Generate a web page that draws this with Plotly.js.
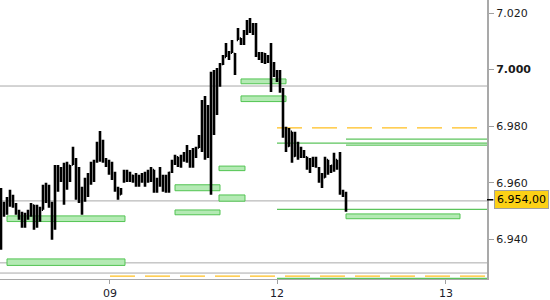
<!DOCTYPE html>
<html>
<head>
<meta charset="utf-8">
<script src="https://cdn.plot.ly/plotly-3.0.1.min.js"></script>
<style>html,body{margin:0;padding:0;background:#fff;}#chart{width:550px;height:300px;}</style>
</head>
<body>
<div id="chart"></div>
<script>
// OHLC bars (bar index = time slot)
const high = [6.9582,6.9533,6.9550,6.9575,6.9558,6.9529,6.9505,6.9498,6.9494,6.9505,
6.9529,6.9522,6.9522,6.9515,6.9593,6.9600,6.9593,6.9533,6.9663,6.9663,
6.9656,6.9671,6.9674,6.9663,6.9727,6.9688,6.9656,6.9586,6.9618,6.9635,
6.9674,6.9681,6.9745,6.9783,6.9752,6.9688,6.9681,6.9674,6.9639,6.9586,
6.9582,6.9646,6.9646,6.9639,6.9628,6.9635,6.9628,6.9635,6.9639,6.9646,
6.9656,6.9646,6.9618,6.9656,6.9628,6.9628,6.9639,6.9681,6.9699,6.9692,
6.9699,6.9709,6.9734,6.9716,6.9723,6.9727,6.9769,6.9893,6.9907,6.9875,
6.9992,6.9999,7.0006,7.0023,7.0052,7.0094,7.0066,7.0105,7.0059,7.0147,
7.0112,7.0140,7.0175,7.0182,7.0165,7.0165,7.0062,7.0062,7.0059,7.0052,
7.0094,7.0027,6.9999,6.9999,6.9935,6.9798,6.9794,6.9780,6.9780,6.9745,
6.9727,6.9716,6.9692,6.9688,6.9692,6.9692,6.9656,6.9635,6.9692,6.9681,
6.9663,6.9706,6.9681,6.9709,6.9575,6.9568];
const low = [6.9363,6.9480,6.9487,6.9515,6.9512,6.9487,6.9469,6.9441,6.9441,6.9469,
6.9480,6.9434,6.9441,6.9462,6.9505,6.9529,6.9512,6.9399,6.9434,6.9568,
6.9603,6.9522,6.9575,6.9603,6.9663,6.9540,6.9529,6.9487,6.9533,6.9550,
6.9593,6.9603,6.9671,6.9674,6.9671,6.9656,6.9628,6.9610,6.9568,6.9540,
6.9558,6.9600,6.9603,6.9603,6.9600,6.9586,6.9586,6.9600,6.9586,6.9600,
6.9603,6.9565,6.9565,6.9586,6.9568,6.9565,6.9565,6.9635,6.9663,6.9656,
6.9653,6.9674,6.9671,6.9653,6.9653,6.9688,6.9723,6.9709,6.9681,6.9688,
6.9558,6.9769,6.9840,6.9939,7.0016,7.0045,7.0034,7.0059,6.9981,7.0105,
7.0087,7.0087,7.0122,7.0129,7.0122,7.0045,7.0034,7.0023,7.0020,7.0023,
6.9921,6.9974,6.9956,6.9918,6.9759,6.9709,6.9727,6.9671,6.9692,6.9681,
6.9688,6.9688,6.9646,6.9635,6.9656,6.9653,6.9600,6.9582,6.9618,6.9628,
6.9635,6.9639,6.9646,6.9558,6.9550,6.9498];
const open = [6.9560,6.9500,6.9525,6.9540,6.9530,6.9520,6.9495,6.9480,6.9460,6.9485,
6.9500,6.9520,6.9450,6.9510,6.9505,6.9580,6.9560,6.9520,6.9450,6.9650,
6.9610,6.9640,6.9580,6.9660,6.9665,6.9680,6.9560,6.9580,6.9540,6.9600,
6.9620,6.9665,6.9675,6.9740,6.9720,6.9680,6.9665,6.9640,6.9620,6.9580,
6.9560,6.9605,6.9635,6.9615,6.9625,6.9605,6.9595,6.9620,6.9610,6.9630,
6.9640,6.9645,6.9575,6.9610,6.9620,6.9580,6.9600,6.9640,6.9675,6.9690,
6.9665,6.9690,6.9700,6.9680,6.9660,6.9715,6.9725,6.9760,6.9880,6.9700,
6.9860,6.9980,6.9850,6.9995,7.0020,7.0045,7.0060,7.0060,7.0055,7.0105,
7.0110,7.0095,7.0135,7.0165,7.0140,7.0155,7.0050,7.0040,7.0055,7.0030,
7.0045,6.9980,6.9990,6.9965,6.9925,6.9770,6.9730,6.9780,6.9695,6.9740,
6.9700,6.9710,6.9690,6.9655,6.9680,6.9665,6.9650,6.9610,6.9620,6.9680,
6.9640,6.9660,6.9680,6.9670,6.9565,6.9555];
const close = [6.9500,6.9525,6.9540,6.9530,6.9520,6.9495,6.9480,6.9460,6.9485,6.9500,
6.9520,6.9450,6.9510,6.9500,6.9580,6.9560,6.9520,6.9450,6.9650,6.9590,
6.9640,6.9560,6.9660,6.9620,6.9720,6.9560,6.9600,6.9510,6.9600,6.9620,
6.9665,6.9675,6.9740,6.9720,6.9680,6.9665,6.9640,6.9620,6.9580,6.9550,
6.9575,6.9635,6.9615,6.9630,6.9605,6.9595,6.9620,6.9610,6.9630,6.9640,
6.9650,6.9575,6.9610,6.9645,6.9580,6.9600,6.9635,6.9675,6.9690,6.9665,
6.9690,6.9700,6.9680,6.9660,6.9715,6.9720,6.9760,6.9880,6.9700,6.9860,
6.9980,6.9790,6.9995,7.0015,7.0045,7.0085,7.0040,7.0100,6.9990,7.0140,
7.0095,7.0135,7.0165,7.0140,7.0155,7.0050,7.0040,7.0055,7.0030,7.0045,
6.9930,6.9990,6.9965,6.9925,6.9770,6.9720,6.9785,6.9690,6.9760,6.9700,
6.9720,6.9695,6.9655,6.9680,6.9665,6.9685,6.9610,6.9590,6.9680,6.9640,
6.9660,6.9700,6.9660,6.9565,6.9555,6.9540];

// x-axis day labels (bar-index positions)
const dayTickPos = [36.33, 92, 148.33];
const dayTickText = ['09', '12', '13'];

// y-axis ticks
const yTickVals = [6.94, 6.96, 6.98, 7.00, 7.02];
const yTickText = ['6.940', '6.960', '6.980', '<b>7.000</b>', '7.020'];

// last price
const lastPrice = 6.954;
const lastPriceLabel = '6.954,00';

// full-width gray levels
const grayLevels = [6.9942, 6.9536, 6.9317, 6.9281];
// orange dashed levels
const orangeStart = [92, 36.33];
const orangeLevel = [6.9794, 6.9270];
// green levels
const greenStart = [115, 92, 115, 92, 92];
const greenLevel = [6.9754, 6.9740, 6.9733, 6.9506, 6.9262];
// green zones
const zoneStart = [2, 2, 58, 58, 72.67, 72.67, 80, 80, 115];
const zoneEnd   = [41.33, 41.33, 73, 73, 81.33, 81.33, 95, 95, 153];
const zoneLow   = [6.9463, 6.9308, 6.9572, 6.9487, 6.9643, 6.9535, 6.9950, 6.9887, 6.9473];
const zoneHigh  = [6.9483, 6.9331, 6.9593, 6.9504, 6.9659, 6.9557, 6.9967, 6.9907, 6.9490];

const xIdx = high.map((_, i) => i);

const shapes = [];
zoneStart.forEach((s, k) => shapes.push({
  type: 'rect', xref: 'x', yref: 'y', layer: 'below',
  x0: s, x1: zoneEnd[k], y0: zoneLow[k], y1: zoneHigh[k],
  fillcolor: '#b4eab4', line: {color: '#52c452', width: 1}
}));
grayLevels.forEach(v => shapes.push({
  type: 'line', xref: 'paper', yref: 'y', layer: 'below',
  x0: 0, x1: 1, y0: v, y1: v, line: {color: '#a9a9a9', width: 1}
}));
orangeLevel.forEach((v, k) => shapes.push({
  type: 'line', xref: 'x', yref: 'y', layer: 'below',
  x0: orangeStart[k], x1: 162, y0: v, y1: v,
  line: {color: '#ffbf1f', width: 1.3, dash: '25px,10px'}
}));
greenLevel.forEach((v, k) => shapes.push({
  type: 'line', xref: 'x', yref: 'y', layer: 'below',
  x0: greenStart[k], x1: 162, y0: v, y1: v,
  line: {color: '#5cc45c', width: 1.2}
}));
shapes.push({
  type: 'line', xref: 'paper', yref: 'y',
  x0: 1, x1: 1.013, y0: lastPrice, y1: lastPrice,
  line: {color: '#000', width: 1.5}
});

const trace = {
  type: 'ohlc', x: xIdx, open: open, high: high, low: low, close: close,
  increasing: {line: {color: '#000', width: 2.6}},
  decreasing: {line: {color: '#000', width: 2.6}},
  tickwidth: 0.4, hoverinfo: 'skip', showlegend: false
};

const layout = {
  width: 550, height: 300,
  margin: {l: 0, r: 63, t: 0, b: 21},
  paper_bgcolor: '#fff', plot_bgcolor: '#fff',
  font: {family: 'DejaVu Sans, Verdana, sans-serif', size: 11, color: '#222'},
  showlegend: false,
  xaxis: {
    range: [-0.333, 162], showgrid: false, zeroline: false,
    rangeslider: {visible: false},
    tickmode: 'array', tickvals: dayTickPos, ticktext: dayTickText,
    ticks: 'outside', ticklen: 4, tickcolor: '#a0a0a0', tickwidth: 1,
    showline: true, linecolor: '#a9a9a9', linewidth: 1,
    tickfont: {size: 11, color: '#1a1a2a'}, fixedrange: true
  },
  yaxis: {
    side: 'right', range: [6.9260, 7.0246], showgrid: false, zeroline: false,
    tickmode: 'array', tickvals: yTickVals, ticktext: yTickText,
    ticks: 'outside', ticklen: 5, tickcolor: '#a0a0a0', tickwidth: 1,
    showline: true, linecolor: '#a9a9a9', linewidth: 2,
    tickfont: {size: 11, color: '#1a1a1a'}, fixedrange: true
  },
  shapes: shapes,
  annotations: [{
    xref: 'paper', yref: 'y', x: 1, y: lastPrice, xanchor: 'left', yanchor: 'middle',
    xshift: 7, text: lastPriceLabel, showarrow: false,
    bgcolor: '#fcd116', bordercolor: '#a0a0a0', borderwidth: 1, borderpad: 2,
    font: {size: 11, color: '#000'}
  }]
};

Plotly.newPlot('chart', [trace], layout, {staticPlot: true, displayModeBar: false});
</script>
</body>
</html>
